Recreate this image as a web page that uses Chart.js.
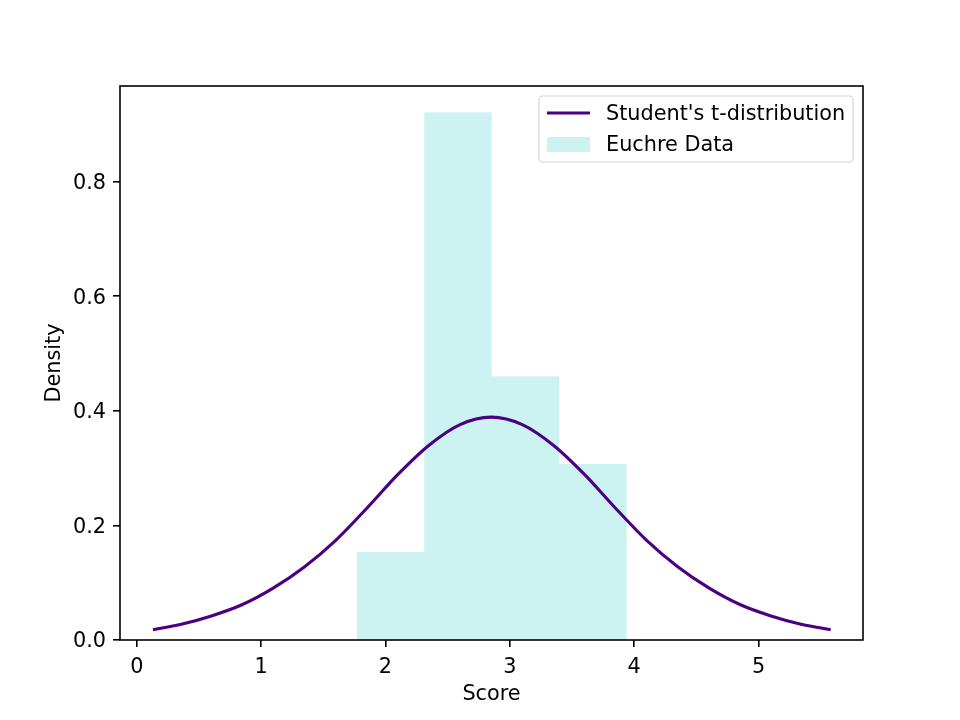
<!DOCTYPE html>
<html>
<head>
<meta charset="utf-8">
<script src="https://cdn.jsdelivr.net/npm/chart.js@4.4.1/dist/chart.umd.min.js"></script>
<style>
  html, body { margin: 0; padding: 0; background: #fff; }
  #wrap { width: 960px; height: 720px; }
</style>
</head>
<body>
<div id="wrap"><canvas id="chart" width="960" height="720"></canvas></div>
<script>
// t-distribution curve
const curveX = [0.13, 0.35, 0.6, 0.85, 1.1, 1.35, 1.6, 1.85, 2.1, 2.35, 2.6, 2.85, 3.1, 3.35, 3.6, 3.85, 4.1, 4.35, 4.6, 4.85, 5.1, 5.35, 5.58];
const curveY = [0.018, 0.027, 0.042, 0.062, 0.091, 0.128, 0.174, 0.230, 0.289, 0.340, 0.376, 0.389, 0.376, 0.340, 0.289, 0.230, 0.174, 0.128, 0.091, 0.062, 0.042, 0.027, 0.018];

// histogram (density) bins
const binEdges = [1.768, 2.311, 2.854, 3.397, 3.940];
const binDensity = [0.1535, 0.921, 0.4605, 0.307];

const xTicks = [0, 1, 2, 3, 4, 5];
const yTicks = [0.0, 0.2, 0.4, 0.6, 0.8];

const FONT = { family: 'DejaVu Sans', size: 20.8 };
const lineColor = '#4b0082';
const barColor = 'rgba(0,191,191,0.2)';

const curvePoints = curveX.map((x, i) => ({ x: x, y: curveY[i] }));
const histPoints = binEdges.map((x, i) => ({ x: x, y: binDensity[Math.min(i, binDensity.length - 1)] }));

// frame + legend inside the plot, matplotlib style
const framePlugin = {
  id: 'frame',
  afterDraw(chart) {
    const ctx = chart.ctx;
    const a = chart.chartArea;
    ctx.save();
    ctx.strokeStyle = '#000';
    ctx.lineWidth = 1.6;
    ctx.strokeRect(a.left, a.top, a.right - a.left, a.bottom - a.top);

    // legend box
    const bx = 539, by = 96, bw = 314, bh = 66, r = 4;
    ctx.beginPath();
    ctx.moveTo(bx + r, by);
    ctx.arcTo(bx + bw, by, bx + bw, by + bh, r);
    ctx.arcTo(bx + bw, by + bh, bx, by + bh, r);
    ctx.arcTo(bx, by + bh, bx, by, r);
    ctx.arcTo(bx, by, bx + bw, by, r);
    ctx.closePath();
    ctx.fillStyle = 'rgba(255,255,255,0.8)';
    ctx.fill();
    ctx.strokeStyle = '#d6d6d6';
    ctx.lineWidth = 1.2;
    ctx.stroke();

    const ds = chart.data.datasets;
    ctx.font = FONT.size + 'px ' + FONT.family;
    ctx.fillStyle = '#000';
    ctx.textBaseline = 'middle';
    ctx.textAlign = 'left';

    ctx.strokeStyle = lineColor;
    ctx.lineWidth = 3.1;
    ctx.beginPath();
    ctx.moveTo(547, 113);
    ctx.lineTo(590, 113);
    ctx.stroke();
    ctx.fillText(ds[0].label, 606, 115);

    ctx.fillStyle = barColor;
    ctx.fillRect(547, 137, 43, 15);
    ctx.fillStyle = '#000';
    ctx.fillText(ds[1].label, 606, 146);
    ctx.restore();
  }
};

new Chart(document.getElementById('chart'), {
  type: 'line',
  data: {
    datasets: [
      {
        label: "Student's t-distribution",
        data: curvePoints,
        borderColor: lineColor,
        borderWidth: 3.1,
        pointRadius: 0,
        cubicInterpolationMode: 'monotone',
        fill: false,
        order: 0
      },
      {
        label: 'Euchre Data',
        data: histPoints,
        stepped: 'before',
        borderWidth: 0,
        borderColor: 'rgba(0,0,0,0)',
        backgroundColor: barColor,
        pointRadius: 0,
        fill: 'origin',
        order: 1
      }
    ]
  },
  options: {
    responsive: false,
    animation: false,
    layout: { padding: { left: 0, top: 86, right: 97, bottom: 0 } },
    plugins: { legend: { display: false }, tooltip: { enabled: false } },
    scales: {
      x: {
        type: 'linear',
        min: -0.135,
        max: 5.84,
        afterFit(scale) { scale.height = 80; },
        afterBuildTicks(scale) { scale.ticks = xTicks.map(v => ({ value: v })); },
        grid: { drawOnChartArea: false, drawTicks: true, tickLength: 7, color: '#000', lineWidth: 1.6 },
        border: { display: false },
        ticks: { font: FONT, color: '#000', padding: 8, maxRotation: 0, callback: v => String(v) },
        title: { display: true, text: 'Score', font: FONT, color: '#000', padding: { top: 0, bottom: 13 } }
      },
      y: {
        min: 0,
        max: 0.967,
        afterFit(scale) { scale.width = 120; },
        afterBuildTicks(scale) { scale.ticks = yTicks.map(v => ({ value: v })); },
        grid: { drawOnChartArea: false, drawTicks: true, tickLength: 7, color: '#000', lineWidth: 1.6 },
        border: { display: false },
        ticks: { font: FONT, color: '#000', padding: 7, labelOffset: 2, callback: v => v.toFixed(1) },
        title: { display: true, text: 'Density', font: FONT, color: '#000', padding: { top: 42, bottom: 0 } }
      }
    }
  },
  plugins: [framePlugin]
});
</script>
</body>
</html>
